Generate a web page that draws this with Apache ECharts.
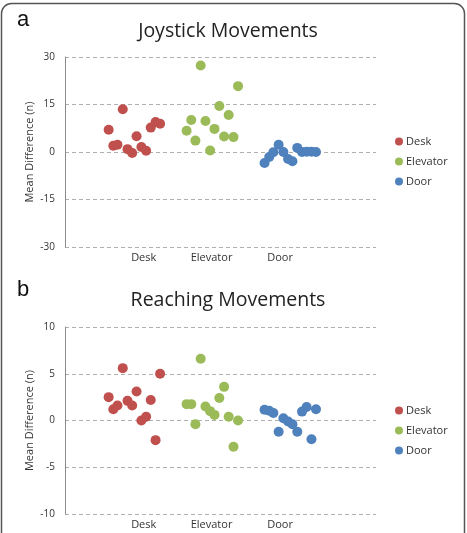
<!DOCTYPE html>
<html>
<head>
<meta charset="utf-8">
<script src="https://cdn.jsdelivr.net/npm/echarts@6/dist/echarts.min.js"></script>
<style>
html, body { margin: 0; padding: 0; background: #fff; }
#chart { width: 467px; height: 533px; }
</style>
</head>
<body>
<div id="chart"></div>
<script>
// values
var categories = ['Desk', 'Elevator', 'Door'];
var labelPos = [1.12, 1.99, 2.87];
var jitter = [-0.33, -0.27, -0.217, -0.149, -0.088, -0.028, 0.028, 0.09, 0.151, 0.21, 0.272, 0.33];

var joyDesk = [7.0, 2.0, 2.3, 13.5, 0.9, -0.3, 5.0, 1.6, 0.4, 7.7, 9.5, 8.9];
var joyElevator = [6.7, 10.1, 3.6, 27.3, 9.8, 0.5, 7.3, 14.5, 4.9, 11.7, 4.7, 20.8];
var joyDoor = [-3.5, -1.6, -0.1, 2.3, 0, -2.2, -2.9, 1.3, 0, 0.1, 0.1, 0];

var reachDesk = [2.5, 1.2, 1.6, 5.6, 2.1, 1.6, 3.1, 0.0, 0.4, 2.2, -2.1, 5.0];
var reachElevator = [1.75, 1.75, -0.4, 6.6, 1.5, 1.0, 0.6, 2.4, 3.6, 0.4, -2.8, 0.0];
var reachDoor = [1.15, 1.05, 0.8, -1.2, 0.25, -0.1, -0.4, -1.2, 0.95, 1.45, -2.0, 1.2];

var colors = ['#C0504D', '#9BBB59', '#4F81BD'];
var font = '"Open Sans", sans-serif';

function points(catIndex, values) {
    return values.map(function (v, i) {
        return [catIndex + 1 + jitter[i], v];
    });
}

function catLabel(v) {
    for (var i = 0; i < labelPos.length; i++) {
        if (Math.abs(labelPos[i] - v) < 0.01) return categories[i];
    }
    return '';
}

function xAxisFor(gridIndex) {
    return {
        type: 'value',
        gridIndex: gridIndex,
        min: 0.11,
        max: 4.1,
        axisLine: { show: false },
        axisTick: { show: false },
        splitLine: { show: false },
        axisLabel: {
            customValues: labelPos,
            formatter: catLabel,
            margin: 5,
            fontFamily: font,
            fontSize: 11,
            color: '#333'
        }
    };
}

function yAxisFor(gridIndex, lim, step) {
    return {
        type: 'value',
        gridIndex: gridIndex,
        min: -lim,
        max: lim,
        interval: step,
        name: 'Mean Difference (n)',
        nameLocation: 'middle',
        nameGap: 30,
        nameMoveOverlap: false,
        nameTextStyle: { fontFamily: font, fontSize: 11, color: '#333' },
        axisLine: { show: true, lineStyle: { color: '#8c8c8c', width: 1 } },
        axisTick: { show: false },
        axisLabel: { fontFamily: font, fontSize: 10, color: '#333', margin: 10 },
        splitLine: { show: true, lineStyle: { color: '#b0b0b0', type: [4, 3], width: 1 } }
    };
}

function scatter(name, gridIndex, catIndex, values) {
    return {
        name: name,
        type: 'scatter',
        xAxisIndex: gridIndex,
        yAxisIndex: gridIndex,
        symbolSize: 10,
        itemStyle: { color: colors[catIndex], opacity: 1 },
        data: points(catIndex, values)
    };
}

function _ext(a, b) {
    var o = {};
    for (var k in a) o[k] = a[k];
    for (var j in b) o[j] = b[j];
    return o;
}

var legendBase = {
    orient: 'vertical',
    left: 390,
    icon: 'circle',
    itemWidth: 8,
    itemHeight: 8,
    itemGap: 9,
    textStyle: { fontFamily: font, fontSize: 11, color: '#333', padding: [0, 0, 0, -2] },
    data: categories
};

var titleFont = '19.5px "Open Sans", sans-serif';

var chart = echarts.init(document.getElementById('chart'));
chart.setOption({
    animation: false,
    legend: [
        _ext(legendBase, { top: 131 }),
        _ext(legendBase, { top: 400 })
    ],
    grid: [
        { left: 65, top: 57, width: 311, height: 190 },
        { left: 65, top: 327, width: 311, height: 187 }
    ],
    xAxis: [xAxisFor(0), xAxisFor(1)],
    yAxis: [yAxisFor(0, 30, 15), yAxisFor(1, 10, 5)],
    series: [
        scatter('Desk', 0, 0, joyDesk),
        scatter('Elevator', 0, 1, joyElevator),
        scatter('Door', 0, 2, joyDoor),
        scatter('Desk', 1, 0, reachDesk),
        scatter('Elevator', 1, 1, reachElevator),
        scatter('Door', 1, 2, reachDoor)
    ],
    graphic: [{
        type: 'rect',
        shape: { x: 1.5, y: 3.5, width: 463, height: 560, r: 10 },
        style: { fill: 'none', stroke: '#555', lineWidth: 1.5 },
        silent: true
    }, {
        type: 'text',
        x: 228,
        y: 31,
        style: { text: 'Joystick Movements', font: titleFont, fill: '#222', align: 'center', verticalAlign: 'middle' }
    }, {
        type: 'text',
        x: 228,
        y: 300,
        style: { text: 'Reaching Movements', font: titleFont, fill: '#222', align: 'center', verticalAlign: 'middle' }
    }, {
        type: 'text',
        left: 17,
        top: 9,
        style: { text: 'a', font: '22px "Liberation Sans", Arial', fill: '#111' }
    }, {
        type: 'text',
        left: 17,
        top: 279,
        style: { text: 'b', font: '22px "Liberation Sans", Arial', fill: '#111' }
    }]
});
</script>
</body>
</html>
